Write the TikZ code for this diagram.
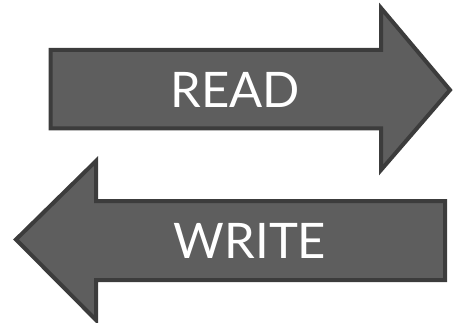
\documentclass[tikz,border=0pt]{standalone}
\usepackage{fontspec}
\setmainfont{Lato}
\usepackage{tikz}
\usetikzlibrary{positioning}

\definecolor{arrowfill}{HTML}{5E5E5E}
\definecolor{arrowline}{HTML}{3C3C3C}

\begin{document}
\begin{tikzpicture}[
    x=1pt, y=-1pt,
    bigarrow/.style={draw=arrowline, fill=arrowfill, line width=4pt, line join=miter},
    lbl/.style={text=white, font=\fontsize{49}{49}\selectfont, inner sep=0pt}
]
    \useasboundingbox (0,0) rectangle (454,323);

    % read arrow, pointing right
    \draw[bigarrow] (50.5,50) -- (381,50) -- (381,8) -- (450,90) -- (381,170)
        -- (381,128.5) -- (50.5,128.5) -- cycle;
    \node[lbl] (read) at (235,90) {READ};

    % write arrow, pointing left
    \draw[bigarrow] (445,201) -- (96,201) -- (96,161) -- (16,239.5) -- (96,320)
        -- (96,280) -- (445,280) -- cycle;
    \node[lbl] (write) at (250,241) {WRITE};
\end{tikzpicture}
\end{document}
